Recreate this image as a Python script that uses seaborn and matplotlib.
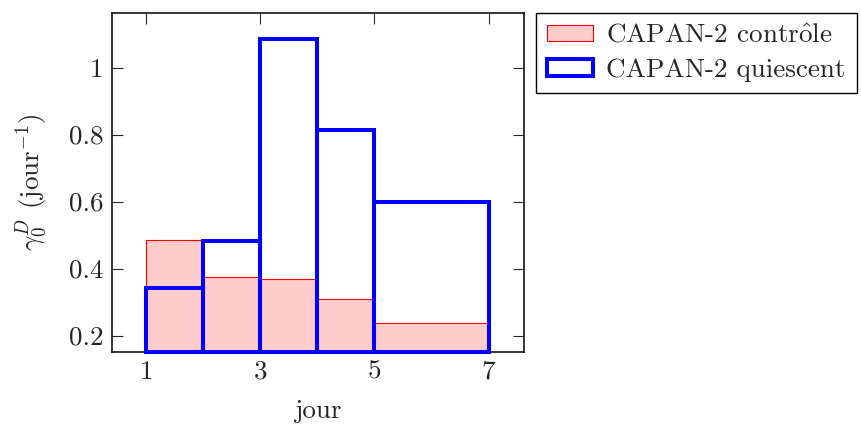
import matplotlib
matplotlib.use('Agg')
import matplotlib.pyplot as plt
import seaborn as sns

# data
jour_edges = [1, 2, 3, 4, 5, 7]
jour_left = [1, 2, 3, 4, 5]
controle = [0.486, 0.376, 0.370, 0.310, 0.237]
quiescent = [0.343, 0.483, 1.084, 0.814, 0.598]
xticks = [1, 3, 5, 7]
yticks = [0.2, 0.4, 0.6, 0.8, 1.0]
ytick_labels = ['0.2', '0.4', '0.6', '0.8', '1']

sns.set_style('ticks')
plt.rcParams['font.family'] = ['cmr10', 'DejaVu Serif']
plt.rcParams['mathtext.fontset'] = 'cm'
plt.rcParams['axes.formatter.use_mathtext'] = True
fs = 19.5
plt.rcParams['font.size'] = fs

ymin, ymax = 0.152, 1.162

fig = plt.figure(figsize=(8.61, 4.28), dpi=100)
ax = fig.add_axes([0.1297, 0.1783, 0.4789, 0.7906])

# cmr10 has no ô, so the accent goes through mathtext (cm)
sns.histplot(x=jour_left, weights=controle, bins=jour_edges, ax=ax,
             facecolor='#ffcccc', edgecolor='red', linewidth=0.8, alpha=1,
             label=r'CAPAN-2 contr$\hat{\mathrm{o}}$le')
n_red = len(ax.patches)
sns.histplot(x=jour_left, weights=quiescent, bins=jour_edges, ax=ax,
             fill=False, color='blue', edgecolor='blue', linewidth=2.9,
             label='CAPAN-2 quiescent')

# bars start at the bottom of the axis, like the pgfplots original
for i, p in enumerate(ax.patches):
    h = p.get_y() + p.get_height()
    p.set_y(ymin)
    p.set_height(h - ymin)
    if i >= n_red:
        p.set_clip_on(False)
        p.set_zorder(3)

ax.set_xlim(0.4, 7.62)
ax.set_ylim(ymin, ymax)
ax.set_xticks(xticks)
ax.set_xticklabels([str(t) for t in xticks])
ax.set_yticks(yticks)
ax.set_yticklabels(ytick_labels)
ax.tick_params(direction='in', length=8, width=0.8, top=True, right=True,
               labelsize=fs, pad=6)
for s in ax.spines.values():
    s.set_visible(True)
    s.set_linewidth(1.1)
    s.set_color('black')

ax.set_xlabel('jour', fontsize=fs, labelpad=11)
ax.set_ylabel(r'$\gamma_0^D$ (jour$^{-1}$)', fontsize=fs, labelpad=14)

h, l = ax.get_legend_handles_labels()
fig.legend(h, l, loc='upper left', bbox_to_anchor=(536 / 861, 1 - 13 / 428),
           frameon=True, fancybox=False, edgecolor='black', framealpha=1,
           fontsize=fs, handlelength=1.7, handleheight=0.55, handletextpad=0.5,
           borderpad=0.4, labelspacing=0.4, borderaxespad=0)

fig.savefig('out.png', dpi=100)
